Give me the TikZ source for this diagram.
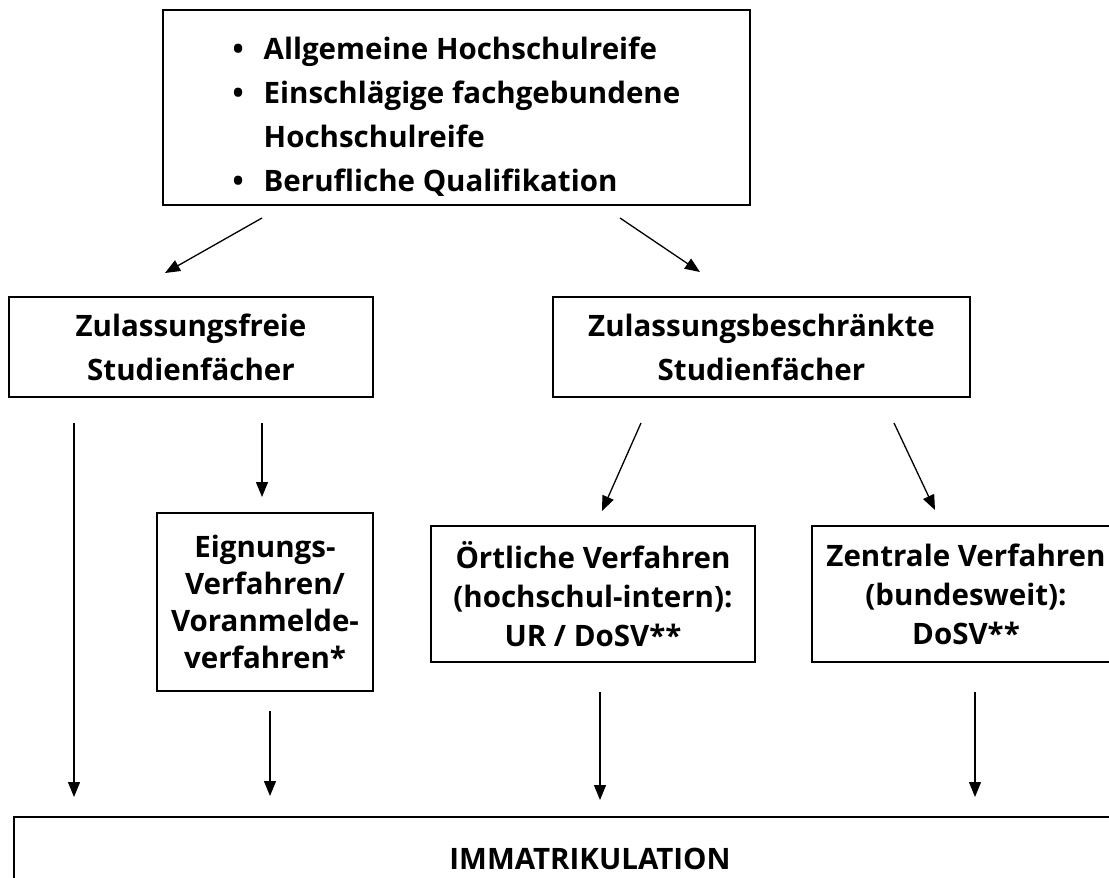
\documentclass[tikz,border=0pt]{standalone}
\usepackage{fontspec}
\setmainfont{Open Sans}
\usetikzlibrary{arrows.meta}
\begin{document}
\begin{tikzpicture}[x=1pt, y=-1pt,
  kasten/.style={draw, line width=1.6pt, inner sep=0pt, align=center,
    font=\bfseries\fontsize{29.5}{44}\selectfont},
  pfeil/.style={line width=1.3pt, -{Triangle[length=15pt, width=12pt]}}]
\clip (0,0) rectangle (1109,878);

\node[kasten, minimum width=587pt, minimum height=191pt] (quali) at (456.5,107.5) {%
  \begin{tabular}{@{}p{31pt}@{}l@{}}
  \rule{0pt}{50pt}\textbullet & Allgemeine Hochschulreife\\
  \textbullet & Einschlägige fachgebundene\\
              & Hochschulreife\\
  \textbullet & Berufliche Qualifikation
  \end{tabular}};
\node[kasten, minimum width=364pt, minimum height=100pt] (frei) at (191,347)
  {Zulassungsfreie\\Studienfächer};
\node[kasten, minimum width=417pt, minimum height=100pt] (beschr) at (761.5,347)
  {Zulassungsbeschränkte\\Studienfächer};
\node[kasten, minimum width=216pt, minimum height=178pt,
  font=\bfseries\fontsize{29.5}{37}\selectfont] (eignung) at (265,602)
  {Eignungs-\\Verfahren/\\Voranmelde-\\verfahren*};
\node[kasten, minimum width=324pt, minimum height=136pt,
  font=\bfseries\fontsize{29.5}{39}\selectfont] (oertlich) at (593,594)
  {Örtliche Verfahren\\(hochschul-intern):\\UR / DoSV**};
\node[kasten, minimum width=308pt, minimum height=136pt,
  font=\bfseries\fontsize{29.5}{39}\selectfont] (zentral) at (966,594)
  {Zentrale Verfahren\\(bundesweit):\\DoSV**};
\node[kasten, minimum width=1152pt, minimum height=84pt] (immatr) at (590,859)
  {IMMATRIKULATION};

\coordinate (qa) at (262,218);
\coordinate (qb) at (620,218);
\coordinate (fa) at (165,273);
\coordinate (ba) at (700,272);
\coordinate (f1) at (74,423);
\coordinate (f2) at (262,423);
\coordinate (e1) at (262,497);
\coordinate (b1) at (641,423);
\coordinate (b2) at (894,423);
\coordinate (o1) at (602,511);
\coordinate (z1) at (935,510);
\coordinate (e2) at (270,711);
\coordinate (o2) at (600,692);
\coordinate (z2) at (975,692);
\coordinate (i1) at (74,797);
\coordinate (i2) at (270,796);
\coordinate (i3) at (600,800);
\coordinate (i4) at (975,797);

\draw[pfeil] (qa) -- (fa);
\draw[pfeil] (qb) -- (ba);
\draw[pfeil] (f1) -- (i1);
\draw[pfeil] (f2) -- (e1);
\draw[pfeil] (b1) -- (o1);
\draw[pfeil] (b2) -- (z1);
\draw[pfeil] (e2) -- (i2);
\draw[pfeil] (o2) -- (i3);
\draw[pfeil] (z2) -- (i4);
\end{tikzpicture}
\end{document}
